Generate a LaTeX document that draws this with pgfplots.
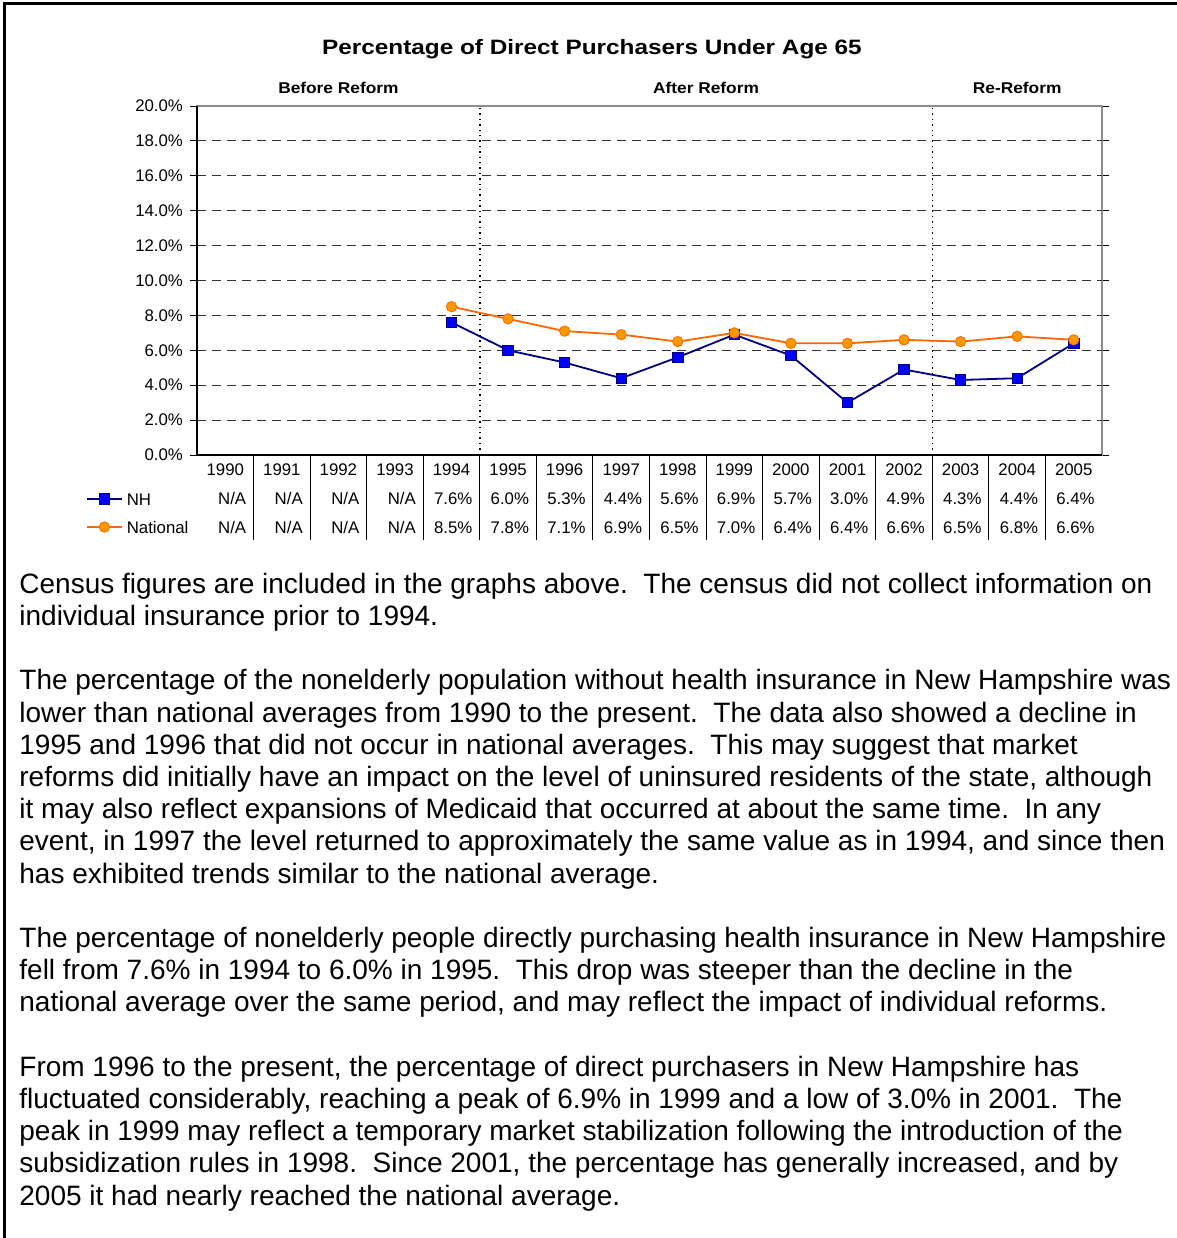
\documentclass[border=0pt]{standalone}
\usepackage{fontspec}
\setmainfont{Liberation Sans}
\newfontfamily\widefont[FakeStretch=1.17]{Liberation Sans}
\newfontfamily\midfont[FakeStretch=1.11]{Liberation Sans}
\usepackage{pgfplots}
\pgfplotsset{compat=1.18}

\definecolor{nhline}{HTML}{000080}
\definecolor{nhfill}{HTML}{0000FF}
\definecolor{natline}{HTML}{FF6600}
\definecolor{natfill}{HTML}{FF9900}

\newcommand{\tbl}{\fontsize{8.4}{10}\selectfont}
\newcommand{\body}{\fontsize{14}{16}\selectfont}
\newcommand{\zone}{\midfont\bfseries\fontsize{7.8}{9}\selectfont}

\begin{document}
\begin{tikzpicture}
% page layout in pixel units of the reference
\begin{scope}[x=0.5pt,y=-0.5pt]
  \useasboundingbox (0,0) rectangle (1177,1238);
  \draw[line width=1.5pt] (4,1238) -- (4,3) -- (1177,3);
  \node[font=\widefont\bfseries\fontsize{10.4}{12}\selectfont, anchor=base, inner sep=0pt] at (592,54) {Percentage of Direct Purchasers Under Age 65};

  % data table under the plot
  \foreach \k in {1,...,15}
    \draw[black, line width=0.5pt] ({197+\k*56.5625},455) -- ({197+\k*56.5625},540);
  \foreach \yr [count=\k from 0] in {1990,1991,1992,1993,1994,1995,1996,1997,1998,1999,2000,2001,2002,2003,2004,2005}
    \node[font=\tbl, anchor=base, inner sep=0pt] at ({197+(\k+0.5)*56.5625},475) {\yr};
  \foreach \v [count=\k from 1] in {N/A,N/A,N/A,N/A,7.6\%,6.0\%,5.3\%,4.4\%,5.6\%,6.9\%,5.7\%,3.0\%,4.9\%,4.3\%,4.4\%,6.4\%}
    \node[font=\tbl, anchor=base east, inner sep=0pt] at ({197+\k*56.5625-7},504) {\v};
  \foreach \v [count=\k from 1] in {N/A,N/A,N/A,N/A,8.5\%,7.8\%,7.1\%,6.9\%,6.5\%,7.0\%,6.4\%,6.4\%,6.6\%,6.5\%,6.8\%,6.6\%}
    \node[font=\tbl, anchor=base east, inner sep=0pt] at ({197+\k*56.5625-7},533) {\v};

  % text below the chart
  \begin{scope}[every node/.style={anchor=base west, inner sep=0pt, font=\body}]
    \node at (19,593) {Census figures are included in the graphs above.\ \ The census did not collect information on};
    \node at (19,625) {individual insurance prior to 1994.};
    \node at (19,689) {The percentage of the nonelderly population without health insurance in New Hampshire was};
    \node at (19,722) {lower than national averages from 1990 to the present.\ \ The data also showed a decline in};
    \node at (19,754) {1995 and 1996 that did not occur in national averages.\ \ This may suggest that market};
    \node at (19,786) {reforms did initially have an impact on the level of uninsured residents of the state, although};
    \node at (19,818) {it may also reflect expansions of Medicaid that occurred at about the same time.\ \ In any};
    \node at (19,850) {event, in 1997 the level returned to approximately the same value as in 1994, and since then};
    \node at (19,883) {has exhibited trends similar to the national average.};
    \node at (19,947) {The percentage of nonelderly people directly purchasing health insurance in New Hampshire};
    \node at (19,979) {fell from 7.6\% in 1994 to 6.0\% in 1995.\ \ This drop was steeper than the decline in the};
    \node at (19,1011) {national average over the same period, and may reflect the impact of individual reforms.};
    \node at (19,1076) {From 1996 to the present, the percentage of direct purchasers in New Hampshire has};
    \node at (19,1108) {fluctuated considerably, reaching a peak of 6.9\% in 1999 and a low of 3.0\% in 2001.\ \ The};
    \node at (19,1140) {peak in 1999 may reflect a temporary market stabilization following the introduction of the};
    \node at (19,1172) {subsidization rules in 1998.\ \ Since 2001, the percentage has generally increased, and by};
    \node at (19,1205) {2005 it had nearly reached the national average.};
  \end{scope}
\end{scope}

\begin{axis}[
  at={(98.5pt,-227.5pt)}, anchor=south west,
  scale only axis, width=452.5pt, height=174.5pt,
  xmin=-0.5, xmax=15.5, ymin=0, ymax=20,
  xtick=\empty,
  ytick={0,2,...,20},
  yticklabel={\pgfmathprintnumber[fixed,fixed zerofill,precision=1]{\tick}\%},
  /pgf/number format/assume math mode=true,
  ticklabel style={font=\tbl},
  tick align=outside, major tick length=3.5pt,
  tick style={black, line width=0.5pt},
  extra y ticks={2,4,...,18}, extra y tick labels={},
  extra y tick style={grid=major, major tick length=0pt},
  grid style={black!80, dash pattern=on 4.5pt off 3pt, line width=0.5pt},
  axis line style={black!45, line width=0.6pt},
  clip=false,
  legend cell align=left,
  legend image code/.code={\draw[mark repeat=2, mark phase=2, #1] plot coordinates {(0pt,0pt)(8.75pt,0pt)(17.5pt,0pt)};},
  legend style={at={(axis cs:-0.5,0)}, anchor=north west, xshift=-55.5pt, yshift=-19pt,
    draw=none, fill=none, inner sep=0pt, outer sep=0pt, row sep=8pt, column sep=2pt,
    font=\tbl, nodes={inner sep=0pt, text height=6pt, text depth=0pt}},
]
\draw[black, dotted, line width=0.7pt] (axis cs:4.5,0) -- (axis cs:4.5,20);
\draw[black, dotted, line width=0.7pt] (axis cs:12.5,0) -- (axis cs:12.5,20);

\addplot[nhline, line width=0.9pt, mark=square*, mark size=2.6pt,
  mark options={fill=nhfill, draw=nhline, line width=0.4pt}] coordinates {
  (4,7.6)(5,6.0)(6,5.3)(7,4.4)(8,5.6)(9,6.9)(10,5.7)(11,3.0)(12,4.9)(13,4.3)(14,4.4)(15,6.4)
};
\addlegendentry{NH}
\addplot[natline, line width=0.9pt, mark=*, mark size=2.6pt,
  mark options={fill=natfill, draw=natline, line width=0.4pt}] coordinates {
  (4,8.5)(5,7.8)(6,7.1)(7,6.9)(8,6.5)(9,7.0)(10,6.4)(11,6.4)(12,6.6)(13,6.5)(14,6.8)(15,6.6)
};
\addlegendentry{National}

\draw[black, line width=1pt] (rel axis cs:0,1) -- (rel axis cs:0,0) -- (rel axis cs:1,0);

\node[font=\zone] at ([yshift=9pt]axis cs:2,20) {Before Reform};
\node[font=\zone] at ([yshift=9pt]axis cs:8.5,20) {After Reform};
\node[font=\zone] at ([yshift=9pt]axis cs:14,20) {Re-Reform};
\end{axis}
\end{tikzpicture}
\end{document}
